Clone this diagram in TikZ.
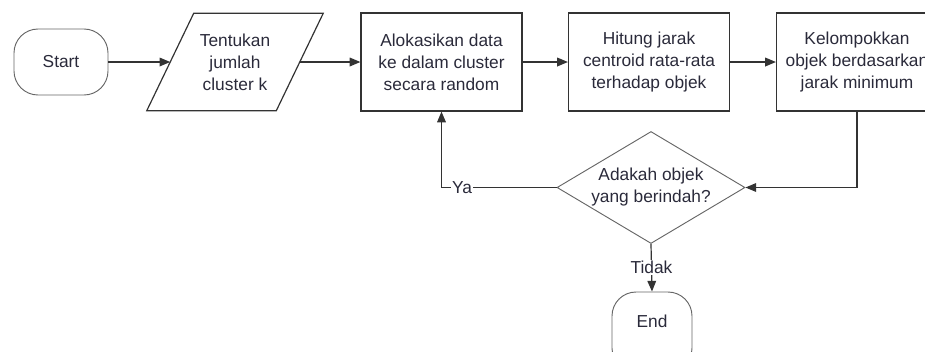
\documentclass[tikz,border=0pt]{standalone}
\usepackage{fontspec}
\setmainfont{Liberation Sans}
\usetikzlibrary{shapes.geometric,arrows.meta}
\definecolor{edge}{HTML}{333333}
\definecolor{lightedge}{HTML}{666666}
\definecolor{txt}{HTML}{2A2A3A}
\tikzset{
  every node/.style={font=\fontsize{13}{16.5}\selectfont, text=txt, align=center},
  procbox/.style={draw=edge, line width=0.9pt, minimum width=161*0.75pt, minimum height=98*0.75pt, inner sep=0pt},
  termbox/.style={draw=lightedge, line width=0.7pt, rounded corners=18pt, minimum height=66*0.75pt, inner sep=0pt},
  ghost/.style={minimum width=129*0.75pt, minimum height=97*0.75pt, inner sep=0pt},
  decide/.style={diamond, draw=lightedge, line width=0.7pt, minimum width=188*0.75pt, minimum height=112*0.75pt, aspect=1.68, inner sep=0pt},
  arr/.style={draw=edge, line width=0.9pt, -{Triangle[length=8pt,width=6.5pt]}},
  lbl/.style={fill=white, inner sep=1pt},
}
\begin{document}
\begin{tikzpicture}[x=0.75pt,y=-0.75pt]
\useasboundingbox (0,0) rectangle (925,351);
\clip (0,0) rectangle (925,351);
\node[termbox, minimum width=94*0.75pt] (start) at (61,62) {Start};
\node[ghost] (para) at (235,62) {Tentukan\\jumlah\\cluster k};
\draw[draw=edge, line width=0.9pt] ([xshift=23.5*0.75pt]para.north west) -- ([xshift=23.5*0.75pt]para.north east)
  -- ([xshift=-23.5*0.75pt]para.south east) -- ([xshift=-23.5*0.75pt]para.south west) -- cycle;
\node[procbox] (b1) at (441.5,62) {Alokasikan data\\ke dalam cluster\\secara random};
\node[procbox] (b2) at (649,62) {Hitung jarak\\centroid rata-rata\\terhadap objek};
\node[procbox] (b3) at (857,62) {Kelompokkan\\objek berdasarkan\\jarak minimum};
\node[decide] (dec) at (651,187.5) {Adakah objek\\yang berindah?};
\node[termbox, minimum width=80*0.75pt, minimum height=80*0.75pt, text depth=16pt] (end) at (652,332) {End};
\draw[arr] (start.east) -- (para.west);
\draw[arr] (para.east) -- (b1.west);
\draw[arr] (b1.east) -- (b2.west);
\draw[arr] (b2.east) -- (b3.west);
\draw[arr] (b3.south) |- (dec.east);
\coordinate (ycorner) at (b1.south |- dec.west);
\draw[arr] (dec.west) -- (ycorner) -- (b1.south);
\node[lbl] (ya) at (462,188) {Ya};
\draw[arr] (dec.south) -- (end.north) node[lbl, midway] (tidak) {Tidak};
\end{tikzpicture}
\end{document}
